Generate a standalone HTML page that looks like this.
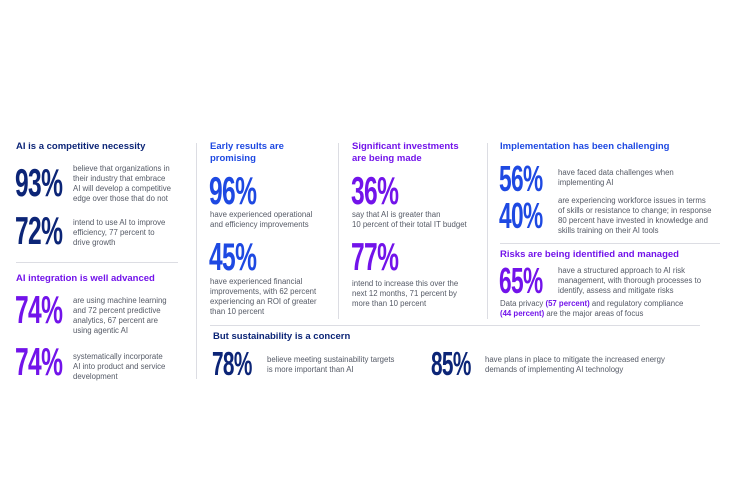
<!DOCTYPE html>
<html><head><meta charset="utf-8"><style>
body{margin:0;width:735px;height:490px;background:#fff;position:relative;overflow:hidden;font-family:"Liberation Sans",sans-serif}
div{position:absolute}
.h{font-weight:bold;font-size:9.5px;line-height:11.5px;white-space:nowrap}
.n{font-weight:bold;font-size:39px;line-height:39px;transform:scaleX(0.63);transform-origin:0 0;white-space:nowrap;letter-spacing:-1px}
.t{font-size:7.8px;line-height:10px;color:#555a66;white-space:nowrap}
.navy{color:#0c2577}.blue{color:#1e49e2}.pur{color:#7213ea}
.vl{width:1px;background:#dcdde3}.hl{height:1px;background:#dcdde3}
</style></head><body>
<div class="h navy" style="left:16px;top:141px">AI is a competitive necessity</div>
<div class="n navy" style="left:15px;top:164px">93%</div>
<div class="t" style="left:73px;top:164px">believe that organizations in<br>their industry that embrace<br>AI will develop a competitive<br>edge over those that do not</div>
<div class="n navy" style="left:15px;top:212px">72%</div>
<div class="t" style="left:73px;top:218px">intend to use AI to improve<br>efficiency, 77 percent to<br>drive growth</div>
<div class="hl" style="left:16px;top:262px;width:162px"></div>
<div class="h pur" style="left:16px;top:273px">AI integration is well advanced</div>
<div class="n pur" style="left:15px;top:291px">74%</div>
<div class="t" style="left:73px;top:296px">are using machine learning<br>and 72 percent predictive<br>analytics, 67 percent are<br>using agentic AI</div>
<div class="n pur" style="left:15px;top:343px">74%</div>
<div class="t" style="left:73px;top:352px">systematically incorporate<br>AI into product and service<br>development</div>
<div class="vl" style="left:196px;top:143px;height:236px"></div>

<div class="h blue" style="left:210px;top:141px">Early results are<br>promising</div>
<div class="n blue" style="left:209px;top:172px">96%</div>
<div class="t" style="left:210px;top:210px">have experienced operational<br>and efficiency improvements</div>
<div class="n blue" style="left:209px;top:238px">45%</div>
<div class="t" style="left:210px;top:277px">have experienced financial<br>improvements, with 62 percent<br>experiencing an ROI of greater<br>than 10 percent</div>
<div class="vl" style="left:338px;top:143px;height:176px"></div>

<div class="h pur" style="left:352px;top:141px">Significant investments<br>are being made</div>
<div class="n pur" style="left:351px;top:172px">36%</div>
<div class="t" style="left:352px;top:210px">say that AI is greater than<br>10 percent of their total IT budget</div>
<div class="n pur" style="left:351px;top:238px">77%</div>
<div class="t" style="left:352px;top:279px">intend to increase this over the<br>next 12 months, 71 percent by<br>more than 10 percent</div>
<div class="vl" style="left:487px;top:143px;height:176px"></div>

<div class="h blue" style="left:500px;top:141px">Implementation has been challenging</div>
<div class="n blue" style="left:499px;top:161px;font-size:36px;line-height:36px">56%</div>
<div class="t" style="left:558px;top:168px">have faced data challenges when<br>implementing AI</div>
<div class="n blue" style="left:499px;top:198px;font-size:36px;line-height:36px">40%</div>
<div class="t" style="left:558px;top:196px">are experiencing workforce issues in terms<br>of skills or resistance to change; in response<br>80 percent have invested in knowledge and<br>skills training on their AI tools</div>
<div class="hl" style="left:500px;top:243px;width:220px"></div>
<div class="h pur" style="left:500px;top:249px">Risks are being identified and managed</div>
<div class="n pur" style="left:499px;top:263px;font-size:36px;line-height:36px">65%</div>
<div class="t" style="left:558px;top:266px">have a structured approach to AI risk<br>management, with thorough processes to<br>identify, assess and mitigate risks</div>
<div class="t" style="left:500px;top:299px">Data privacy <b class="pur">(57 percent)</b> and regulatory compliance<br><b class="pur">(44 percent)</b> are the major areas of focus</div>

<div class="hl" style="left:210px;top:325px;width:490px"></div>
<div class="h navy" style="left:213px;top:331px">But sustainability is a concern</div>
<div class="n navy" style="left:212px;top:347px;font-size:33px;line-height:33px">78%</div>
<div class="t" style="left:267px;top:355px">believe meeting sustainability targets<br>is more important than AI</div>
<div class="n navy" style="left:431px;top:347px;font-size:33px;line-height:33px">85%</div>
<div class="t" style="left:485px;top:355px">have plans in place to mitigate the increased energy<br>demands of implementing AI technology</div>
</body></html>
